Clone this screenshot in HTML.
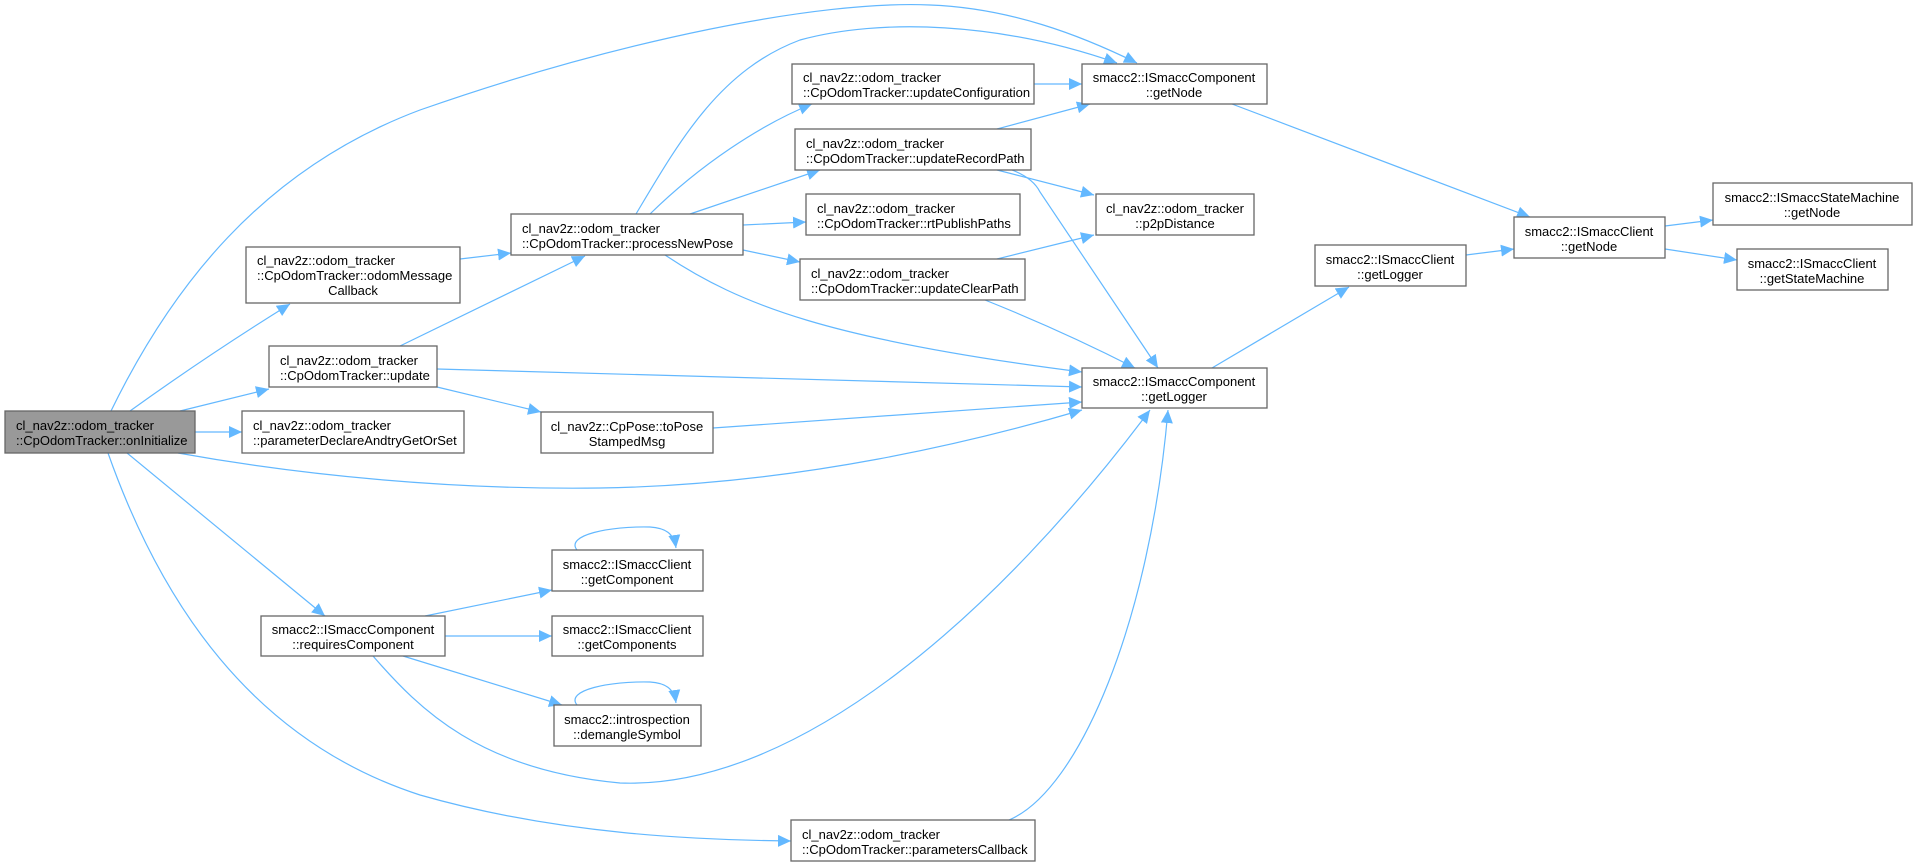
<!DOCTYPE html>
<html><head><meta charset="utf-8"><style>
html,body{margin:0;padding:0;background:#fff;}
svg{display:block;}
text{font-family:"Liberation Sans",sans-serif;font-size:13px;fill:#000;}
.b{fill:#fff;stroke:#666;stroke-width:1.3;}
.g{fill:#999;stroke:#666;stroke-width:1.3;}
.e{fill:none;stroke:#63b8ff;stroke-width:1.2;marker-end:url(#a);}
</style></head><body>
<svg width="1917" height="866" viewBox="0 0 1917 866" xmlns="http://www.w3.org/2000/svg">
<defs><marker id="a" markerUnits="userSpaceOnUse" markerWidth="14" markerHeight="12" refX="13" refY="6" orient="auto"><path d="M0,0 L13,6 L0,12 z" fill="#63b8ff"/></marker></defs>

<!-- edges -->
<path class="e" d="M111,411 C170,290 260,170 420,110 C620,40 820,0 930,5 C1010,8 1080,35 1137,63"/>
<path class="e" d="M130,411 C180,375 240,335 290,304"/>
<path class="e" d="M180,411 L269,389"/>
<path class="e" d="M195,432 L242,432"/>
<path class="e" d="M178,453 C300,475 450,490 600,488 C800,485 980,440 1082,410"/>
<path class="e" d="M127,453 L325,616"/>
<path class="e" d="M108,453 C160,600 250,740 420,795 C560,835 700,840 791,841"/>
<path class="e" d="M460,259 L511,253"/>
<path class="e" d="M400,346 L585,256"/>
<path class="e" d="M437,369 L1082,387"/>
<path class="e" d="M437,387 L541,412"/>
<path class="e" d="M636,214 C680,140 720,70 800,40 C880,18 1000,22 1117,63"/>
<path class="e" d="M650,214 C700,165 760,125 812,104"/>
<path class="e" d="M690,214 L820,170"/>
<path class="e" d="M743,225 L806,222"/>
<path class="e" d="M743,250 L800,262"/>
<path class="e" d="M665,255 C740,305 830,340 1082,372"/>
<path class="e" d="M1034,84 L1082,84"/>
<path class="e" d="M997,129 L1090,104"/>
<path class="e" d="M997,170 L1094,195"/>
<path class="e" d="M1012,170 C1025,175 1035,182 1040,192 L1158,368"/>
<path class="e" d="M997,259 L1094,235"/>
<path class="e" d="M985,300 C1040,322 1090,345 1135,368"/>
<path class="e" d="M713,428 L1082,402"/>
<path class="e" d="M1232,104 L1530,217"/>
<path class="e" d="M1212,368 L1349,287"/>
<path class="e" d="M1466,255 L1514,249"/>
<path class="e" d="M1665,226 L1713,220"/>
<path class="e" d="M1665,249 L1737,260"/>
<path class="e" d="M425,616 L552,590"/>
<path class="e" d="M445,636 L552,636"/>
<path class="e" d="M403,656 L562,705"/>
<path class="e" d="M373,656 C420,710 480,770 620,783 C800,790 1000,610 1150,410"/>
<path class="e" d="M1009,820 C1080,790 1150,620 1168,410"/>
<path class="e" d="M577,550 C565,535 610,526 650,527 C665,528 674,533 676,548"/>
<path class="e" d="M577,705 C565,690 610,681 650,682 C665,683 674,688 676,703"/>

<!-- nodes -->
<rect class="g" x="5" y="411" width="190" height="42"/>
<text x="16" y="430">cl_nav2z::odom_tracker</text><text x="16" y="445">::CpOdomTracker::onInitialize</text>

<rect class="b" x="246" y="247" width="214" height="56"/>
<text x="257" y="265">cl_nav2z::odom_tracker</text><text x="257" y="280">::CpOdomTracker::odomMessage</text><text x="353" y="295" text-anchor="middle">Callback</text>

<rect class="b" x="269" y="346" width="168" height="41"/>
<text x="280" y="365">cl_nav2z::odom_tracker</text><text x="280" y="380">::CpOdomTracker::update</text>

<rect class="b" x="242" y="411" width="222" height="42"/>
<text x="253" y="430">cl_nav2z::odom_tracker</text><text x="253" y="445">::parameterDeclareAndtryGetOrSet</text>

<rect class="b" x="511" y="214" width="232" height="41"/>
<text x="522" y="233">cl_nav2z::odom_tracker</text><text x="522" y="248">::CpOdomTracker::processNewPose</text>

<rect class="b" x="541" y="412" width="172" height="41"/>
<text x="627" y="431" text-anchor="middle">cl_nav2z::CpPose::toPose</text><text x="627" y="446" text-anchor="middle">StampedMsg</text>

<rect class="b" x="261" y="616" width="184" height="40"/>
<text x="353" y="634" text-anchor="middle">smacc2::ISmaccComponent</text><text x="353" y="649" text-anchor="middle">::requiresComponent</text>

<rect class="b" x="552" y="550" width="151" height="41"/>
<text x="627" y="569" text-anchor="middle">smacc2::ISmaccClient</text><text x="627" y="584" text-anchor="middle">::getComponent</text>

<rect class="b" x="552" y="616" width="151" height="40"/>
<text x="627" y="634" text-anchor="middle">smacc2::ISmaccClient</text><text x="627" y="649" text-anchor="middle">::getComponents</text>

<rect class="b" x="554" y="705" width="147" height="41"/>
<text x="627" y="724" text-anchor="middle">smacc2::introspection</text><text x="627" y="739" text-anchor="middle">::demangleSymbol</text>

<rect class="b" x="791" y="820" width="244" height="41"/>
<text x="802" y="839">cl_nav2z::odom_tracker</text><text x="802" y="854">::CpOdomTracker::parametersCallback</text>

<rect class="b" x="792" y="64" width="242" height="40"/>
<text x="803" y="82">cl_nav2z::odom_tracker</text><text x="803" y="97">::CpOdomTracker::updateConfiguration</text>

<rect class="b" x="795" y="129" width="236" height="41"/>
<text x="806" y="148">cl_nav2z::odom_tracker</text><text x="806" y="163">::CpOdomTracker::updateRecordPath</text>

<rect class="b" x="806" y="194" width="214" height="41"/>
<text x="817" y="213">cl_nav2z::odom_tracker</text><text x="817" y="228">::CpOdomTracker::rtPublishPaths</text>

<rect class="b" x="800" y="259" width="225" height="41"/>
<text x="811" y="278">cl_nav2z::odom_tracker</text><text x="811" y="293">::CpOdomTracker::updateClearPath</text>

<rect class="b" x="1082" y="64" width="185" height="40"/>
<text x="1174" y="82" text-anchor="middle">smacc2::ISmaccComponent</text><text x="1174" y="97" text-anchor="middle">::getNode</text>

<rect class="b" x="1096" y="194" width="158" height="41"/>
<text x="1175" y="213" text-anchor="middle">cl_nav2z::odom_tracker</text><text x="1175" y="228" text-anchor="middle">::p2pDistance</text>

<rect class="b" x="1082" y="368" width="185" height="40"/>
<text x="1174" y="386" text-anchor="middle">smacc2::ISmaccComponent</text><text x="1174" y="401" text-anchor="middle">::getLogger</text>

<rect class="b" x="1315" y="245" width="151" height="41"/>
<text x="1390" y="264" text-anchor="middle">smacc2::ISmaccClient</text><text x="1390" y="279" text-anchor="middle">::getLogger</text>

<rect class="b" x="1514" y="217" width="151" height="41"/>
<text x="1589" y="236" text-anchor="middle">smacc2::ISmaccClient</text><text x="1589" y="251" text-anchor="middle">::getNode</text>

<rect class="b" x="1713" y="183" width="199" height="42"/>
<text x="1812" y="202" text-anchor="middle">smacc2::ISmaccStateMachine</text><text x="1812" y="217" text-anchor="middle">::getNode</text>

<rect class="b" x="1737" y="249" width="151" height="41"/>
<text x="1812" y="268" text-anchor="middle">smacc2::ISmaccClient</text><text x="1812" y="283" text-anchor="middle">::getStateMachine</text>
</svg>
</body></html>
